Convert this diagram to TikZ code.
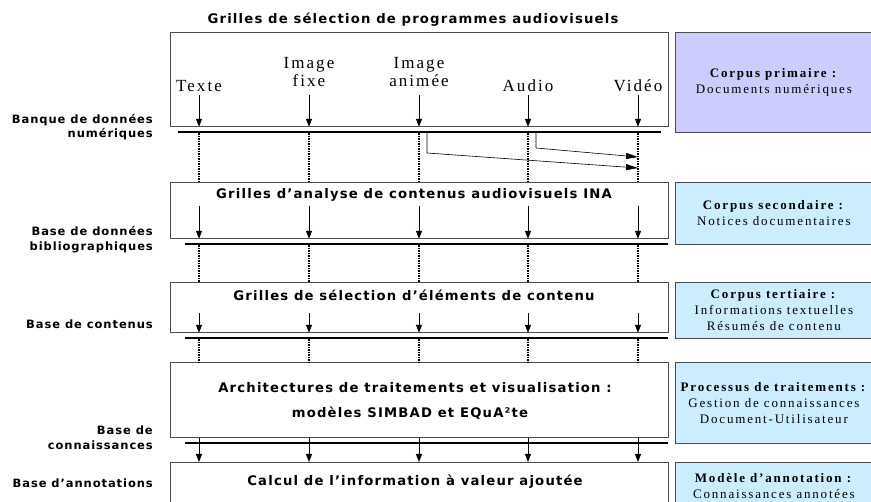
\documentclass[tikz,border=0pt]{standalone}
\usepackage{fontspec}
\usetikzlibrary{arrows.meta}
\setmainfont{Liberation Serif}
\newfontfamily\sfbold{DejaVu Sans}[LetterSpace=9]
\newfontfamily\sfboldl{DejaVu Sans}[LetterSpace=8]
\newfontfamily\serifls{Liberation Serif}[LetterSpace=12]
\newfontfamily\serifrb{Liberation Serif}[LetterSpace=14]
\definecolor{lav}{RGB}{204,204,255}
\definecolor{lblue}{RGB}{204,236,255}
\begin{document}
\begin{tikzpicture}[x=1pt,y=-1pt,
  gbox/.style={draw=black!70, line width=0.8pt, fill=white, inner sep=0pt, anchor=north west, minimum width=498pt},
  rbox/.style={draw=black!70, line width=0.8pt, inner sep=0pt, anchor=north west, minimum width=197pt, align=center, font=\serifrb\fontsize{13}{16}\selectfont},
  bar/.style={fill=black, inner sep=0pt, outer sep=0pt, minimum height=2.2pt},
  ttl/.style={inner sep=0pt, font=\sfbold\bfseries\fontsize{13.2}{15}\selectfont},
  coll/.style={inner sep=0pt, anchor=base, font=\serifls\fontsize{17}{20}\selectfont},
  lbl/.style={inner sep=0pt, anchor=east, align=right, font=\sfboldl\bfseries\fontsize{11.5}{14.5}\selectfont},
  arr/.style={line width=0.8pt, -{Triangle[length=8pt,width=6pt]}},
  arrx/.style={line width=0.6pt, -{Triangle[length=12pt,width=6pt]}},
  dotl/.style={line width=1.7pt, dash pattern=on 1.5pt off 1pt}]
\useasboundingbox (0,0) rectangle (871,502);
% main boxes
\node[gbox, minimum height=94pt] (b1) at (170,32) {};
\node[gbox, minimum height=56pt] (b2) at (170,182) {};
\node[gbox, minimum height=50pt] (b3) at (170,282) {};
\node[gbox, minimum height=75pt] (b4) at (170,362) {};
\node[gbox, minimum height=60pt] (b5) at (170,462) {};
% right boxes
\node[rbox, fill=lav, minimum height=100pt] (r1) at (675,32) {\textbf{Corpus primaire :}\\Documents numériques};
\node[rbox, fill=lblue, minimum height=62pt] (r2) at (675,182) {\textbf{Corpus secondaire :}\\Notices documentaires};
\node[rbox, fill=lblue, minimum height=56pt] (r3) at (675,282) {\textbf{Corpus tertiaire :}\\Informations textuelles\\Résumés de contenu};
\node[rbox, fill=lblue, minimum height=81pt] (r4) at (675,362) {\textbf{Processus de traitements :}\\Gestion de connaissances\\Document-Utilisateur};
\node[rbox, fill=lblue, minimum height=47pt] (r5) at (675,462) {\textbf{Modèle d’annotation :}\\Connaissances annotées};
% bars
\node[bar, minimum width=483pt] (bar1) at (419.5,132) {};
\node[bar, minimum width=483pt] (bar2) at (426.5,244) {};
\node[bar, minimum width=483pt] (bar3) at (426.5,338) {};
\node[bar, minimum width=483pt] (bar4) at (426.5,443) {};
% titles
\node[ttl] (t1) at (413,20) {Grilles de sélection de programmes audiovisuels};
\node[ttl] (t2) at (414,195) {Grilles d’analyse de contenus audiovisuels INA};
\node[ttl] (t3) at (414,295) {Grilles de sélection d’éléments de contenu};
\node[ttl] (t4a) at (415,388) {Architectures de traitements et visualisation :};
\node[ttl] (t4b) at (410,413) {modèles SIMBAD et EQuA²te};
\node[ttl] (t5) at (415,482) {Calcul de l’information à valeur ajoutée};
% column labels
\node[coll] (l1) at (199,92) {Texte};
\node[coll] (l2a) at (309,69) {Image};
\node[coll] (l2b) at (309,87) {fixe};
\node[coll] (l3a) at (419,69) {Image};
\node[coll] (l3b) at (419,87) {animée};
\node[coll] (l4) at (528,92) {Audio};
\node[coll] (l5) at (638,92) {Vidéo};
% left labels
\node[lbl] (g1) at (153,127) {Banque de données\\numériques};
\node[lbl] (g2) at (153,239.5) {Base de données\\bibliographiques};
\node[lbl] (g3) at (153,324) {Base de contenus};
\node[lbl] (g4) at (153,437.5) {Base de\\connaissances};
\node[lbl] (g5) at (153,483) {Base d’annotations};
% helper coordinates
\coordinate (s1) at (0,95);
\coordinate (s2) at (0,206);
\coordinate (s3) at (0,313);
\foreach \x [count=\i] in {199,309,419,528,638} {
  \coordinate (k\i) at (\x,0);
  \draw[arr] (k\i |- s1) -- (k\i |- b1.south);
  \draw[dotl] (k\i |- bar1.south) -- (k\i |- b2.north);
  \draw[arr] (k\i |- s2) -- (k\i |- b2.south);
  \draw[dotl] (k\i |- bar2.south) -- (k\i |- b3.north);
  \draw[arr] (k\i |- s3) -- (k\i |- b3.south);
  \draw[dotl] (k\i |- bar3.south) -- (k\i |- b4.north);
  \draw[arr] (k\i |- b4.south) -- (k\i |- b5.north);
}
% cross arrows
\coordinate (ca) at (427,133);
\coordinate (cb) at (536,133);
\coordinate (ea) at (638,168);
\coordinate (eb) at (638,157);
\draw[arrx] (ca) -- ++(0,20) -- (ea);
\draw[arrx] (cb) -- ++(0,15) -- (eb);
\end{tikzpicture}
\end{document}
